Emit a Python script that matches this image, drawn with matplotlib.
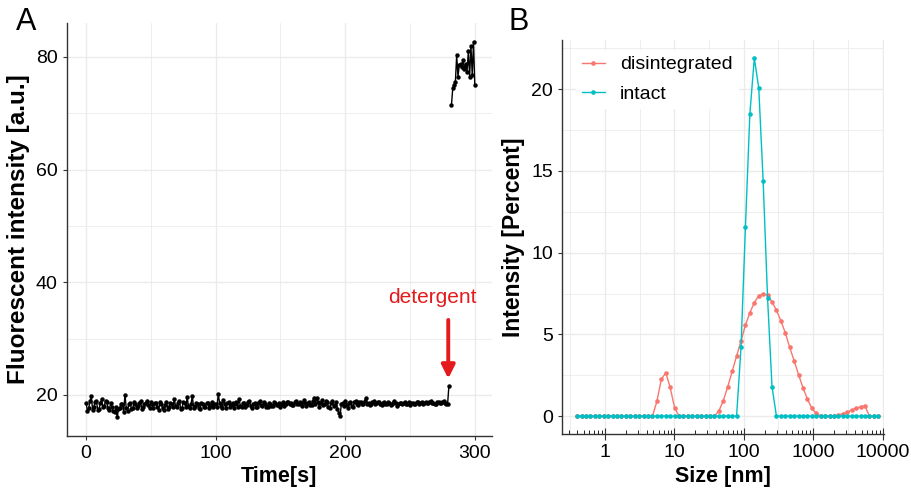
import numpy as np
import matplotlib
matplotlib.use("Agg")
import matplotlib.pyplot as plt
from matplotlib.ticker import FixedLocator, NullFormatter

plt.rcParams['font.family'] = ['Liberation Sans', 'DejaVu Sans']

# ---- panel A: fluorescence vs time ----
time_before = list(range(0, 281))
intensity_before = [
    18.5, 17.2, 17.6, 18.9, 19.8, 17.4, 17.9, 18.8, 18.9, 17.3, 17.5, 18.6, 19.2, 17.8, 18.0, 19.0, 18.8, 17.6, 17.4, 18.5,
    17.9, 17.1, 16.9, 17.8, 16.0, 17.5, 17.7, 18.4, 18.3, 17.0, 20.0, 17.6, 17.2, 18.3, 18.6, 17.5, 17.6, 18.8, 18.4, 17.7,
    18.0, 18.6, 18.9, 17.5, 17.8, 18.3, 18.5, 19.0, 18.2, 17.6, 18.8, 18.4, 17.7, 18.5, 18.6, 17.9, 17.4, 18.7, 18.3, 17.6,
    17.3, 18.2, 18.7, 17.5, 17.9, 18.6, 18.4, 17.8, 19.2, 18.1, 17.8, 18.5, 18.9, 17.5, 17.6, 18.7, 18.5, 17.9, 19.6, 18.0,
    17.7, 18.4, 19.8, 17.6, 18.0, 18.5, 18.3, 17.6, 17.5, 18.6, 18.4, 17.8, 17.9, 18.5, 18.6, 17.7, 18.1, 18.7, 17.8, 18.3,
    18.4, 17.8, 20.2, 18.6, 18.0, 17.6, 19.1, 18.3, 17.6, 18.6, 18.7, 17.9, 18.2, 18.5, 17.7, 18.4, 18.8, 17.9, 19.3, 18.1,
    17.9, 18.5, 18.6, 17.8, 18.2, 18.8, 19.0, 18.1, 17.6, 18.4, 18.5, 17.9, 17.8, 18.6, 18.9, 18.2, 18.0, 18.7, 18.3, 17.9,
    17.9, 18.5, 18.4, 18.0, 18.1, 18.7, 18.6, 18.2, 18.2, 18.6, 17.9, 18.4, 18.7, 18.1, 18.3, 18.8, 18.8, 18.3, 18.5, 18.2,
    18.2, 18.7, 18.9, 18.3, 18.4, 18.8, 18.6, 18.1, 19.1, 18.5, 18.0, 18.6, 18.8, 18.2, 18.2, 18.9, 19.4, 18.3, 19.5, 18.7,
    17.9, 18.6, 19.1, 18.2, 18.3, 18.9, 18.8, 17.9, 17.6, 18.5, 18.9, 18.0, 18.2, 18.7, 17.5, 16.8, 16.3, 18.4, 18.6, 18.0,
    18.9, 18.2, 17.7, 18.6, 18.8, 18.1, 17.9, 18.7, 19.0, 18.3, 18.2, 18.8, 18.7, 18.3, 18.4, 18.9, 19.5, 18.4, 18.6, 18.2,
    18.3, 18.8, 18.9, 18.4, 18.5, 18.7, 18.7, 18.3, 18.2, 18.6, 18.8, 18.4, 18.4, 18.7, 18.6, 18.2, 18.3, 18.6, 18.9, 18.5,
    18.0, 18.4, 18.5, 18.6, 18.3, 18.5, 18.7, 18.4, 18.4, 18.7, 18.2, 18.5, 18.6, 18.4, 18.3, 18.8, 18.8, 18.4, 18.5, 18.7,
    18.4, 18.6, 18.7, 18.5, 18.5, 18.8, 18.9, 18.5, 18.6, 18.4, 18.3, 18.7, 18.8, 18.5, 18.5, 18.8, 18.9, 18.6, 18.3, 18.4,
    21.6,
]
time_after = [282, 283, 284, 285, 286, 287, 288, 289, 290, 291,
              292, 293, 294, 295, 296, 297, 298, 299, 300]
intensity_after = [71.5, 74.5, 75.0, 75.5, 80.3, 76.5, 78.5, 78.8, 78.2, 79.5,
                   77.8, 78.8, 77.4, 81.0, 76.5, 82.0, 76.8, 82.6, 75.0]

# ---- panel B: DLS size distribution ----
size_nm = [0.4, 0.4632, 0.5365, 0.6213, 0.7195, 0.8332, 0.9649, 1.117, 1.294, 1.499,
           1.736, 2.01, 2.328, 2.696, 3.122, 3.615, 4.187, 4.849, 5.615, 6.503,
           7.531, 8.721, 10.1, 11.7, 13.54, 15.69, 18.17, 21.04, 24.36, 28.21,
           32.67, 37.84, 43.82, 50.75, 58.77, 68.06, 78.82, 91.28, 105.7, 122.4,
           141.8, 164.2, 190.1, 220.2, 255.0, 295.3, 342.0, 396.1, 458.7, 531.2,
           615.1, 712.4, 825.0, 955.4, 1106, 1281, 1484, 1718, 1990, 2305,
           2669, 3091, 3580, 4145, 4801, 5560, 6439, 7456, 8635]
disintegrated = [0, 0, 0, 0, 0, 0, 0, 0, 0, 0,
                 0, 0, 0, 0, 0, 0, 0, 0, 0.9, 2.25,
                 2.65, 1.75, 0.5, 0, 0, 0, 0, 0, 0, 0,
                 0, 0, 0.32, 0.94, 1.8, 2.73, 3.67, 4.6, 5.57, 6.32,
                 6.95, 7.36, 7.48, 7.4, 6.99, 6.48, 5.83, 5.1, 4.2, 3.38,
                 2.53, 1.73, 1.04, 0.47, 0.17, 0, 0, 0, 0, 0.06,
                 0.15, 0.24, 0.37, 0.47, 0.57, 0.62, 0, 0, 0]
intact = [0, 0, 0, 0, 0, 0, 0, 0, 0, 0,
          0, 0, 0, 0, 0, 0, 0, 0, 0, 0,
          0, 0, 0, 0, 0, 0, 0, 0, 0, 0,
          0, 0, 0, 0, 0, 0, 0, 4.2, 11.6, 18.5,
          21.9, 20.1, 14.4, 7.2, 1.8, 0, 0, 0, 0, 0,
          0, 0, 0, 0, 0, 0, 0, 0, 0, 0,
          0, 0, 0, 0, 0, 0, 0, 0, 0]

RED = "#F8766D"
TEAL = "#00BFC4"
GRID = "#EBEBEB"

fig = plt.figure(figsize=(9.12, 4.91), dpi=100)
axA = fig.add_axes([0.0731, 0.112, 0.466, 0.841])
axB = fig.add_axes([0.616, 0.116, 0.353, 0.802])


def style(ax):
    for s in ["top", "right"]:
        ax.spines[s].set_visible(False)
    for s in ["left", "bottom"]:
        ax.spines[s].set_color("#333333")
        ax.spines[s].set_linewidth(1.0)
    ax.grid(True, which="major", color=GRID, lw=1.0, zorder=0)
    ax.grid(True, which="minor", color=GRID, lw=0.6, zorder=0)
    ax.set_axisbelow(True)
    ax.tick_params(labelsize=14, colors="#333333", labelcolor="black")


# panel A
axA.plot(time_before, intensity_before, color="black", lw=1.0, marker="o", ms=2.2)
axA.plot(time_after, intensity_after, color="black", lw=1.0, marker="o", ms=2.2)
axA.set_xlim(-15, 313)
axA.set_ylim(12.7, 86.0)
axA.set_xticks([0, 100, 200, 300])
axA.set_xticks([50, 150, 250], minor=True)
axA.set_yticks([20, 40, 60, 80])
axA.set_yticks([30, 50, 70], minor=True)
style(axA)
axA.tick_params(which="minor", length=0)
axA.tick_params(which="major", length=3)
axA.set_xlabel("Time[s]", fontsize=15.5, fontweight="bold", labelpad=3)
axA.set_ylabel("Fluorescent intensity [a.u.]", fontsize=17.5, fontweight="bold", labelpad=4)
axA.annotate("", xy=(279.5, 22.4), xytext=(279.5, 33.8),
             arrowprops=dict(arrowstyle="-|>", color="#E41A1C", lw=2.8, mutation_scale=20))
axA.text(267, 37.2, "detergent", color="#E41A1C", fontsize=15, ha="center", va="center")

# panel B
axB.plot(size_nm, disintegrated, color=RED, lw=1.0, marker="o", ms=2.3, label="disintegrated")
axB.plot(size_nm, intact, color=TEAL, lw=1.0, marker="o", ms=2.3, label="intact")
axB.set_xscale("log")
axB.set_xlim(10 ** -0.62, 10 ** 4.015)
axB.set_ylim(-1.1, 23.0)
axB.set_xticks([1, 10, 100, 1000, 10000])
axB.set_xticklabels(["1", "10", "100", "1000", "10000"])
minor_ticks = [m * 10.0 ** e for e in range(-1, 4) for m in range(2, 10)]
axB.xaxis.set_minor_locator(FixedLocator(minor_ticks))
axB.xaxis.set_minor_formatter(NullFormatter())
axB.set_yticks([0, 5, 10, 15, 20])
axB.set_yticks([2.5, 7.5, 12.5, 17.5, 22.5], minor=True)
style(axB)
axB.grid(False, which="minor", axis="x")
for v in [0.316, 3.16, 31.6, 316, 3160]:
    axB.axvline(v, color=GRID, lw=0.6, zorder=0)
axB.tick_params(axis="x", which="major", direction="inout", length=8)
axB.tick_params(axis="x", which="minor", direction="in", length=3)
axB.tick_params(axis="y", which="minor", length=0)
axB.tick_params(axis="y", which="major", length=3)
axB.set_xlabel("Size [nm]", fontsize=15.5, fontweight="bold", labelpad=3)
axB.set_ylabel("Intensity [Percent]", fontsize=16.5, fontweight="bold", labelpad=4)
leg = axB.legend(loc="upper left", bbox_to_anchor=(0.015, 1.0), fontsize=14,
                 frameon=True, handlelength=1.15, handletextpad=0.8,
                 borderpad=0.3, labelspacing=0.6)
leg.get_frame().set_facecolor("white")
leg.get_frame().set_edgecolor("none")
leg.get_frame().set_alpha(1.0)

fig.text(0.018, 0.955, "A", fontsize=22, va="center")
fig.text(0.558, 0.955, "B", fontsize=22, va="center")

fig.savefig("out.png", dpi=100)
